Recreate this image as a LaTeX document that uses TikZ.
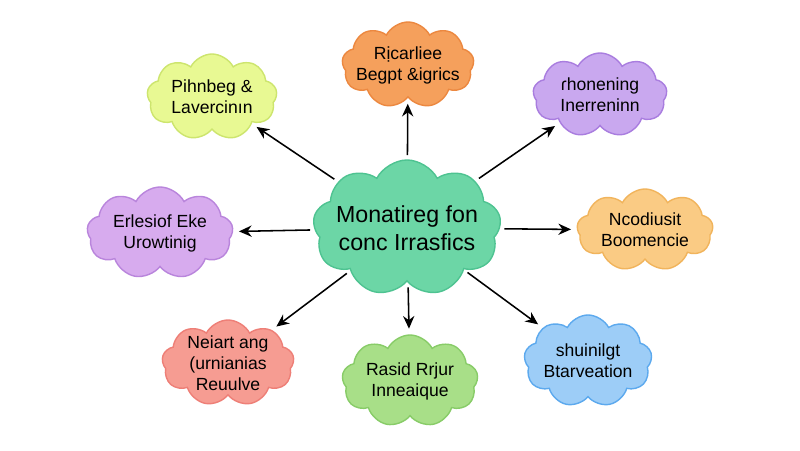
\documentclass[tikz,border=0pt]{standalone}
\usepackage{fontspec}
\setmainfont{Liberation Sans}
\usetikzlibrary{shapes.symbols,arrows.meta}
\definecolor{cmid}{HTML}{6CD6A6}
\definecolor{cmidb}{HTML}{4EC391}
\definecolor{clime}{HTML}{E8F993}
\definecolor{climeb}{HTML}{CDE56E}
\definecolor{corange}{HTML}{F5A05C}
\definecolor{corangeb}{HTML}{EC8840}
\definecolor{cviolet}{HTML}{C9A8EF}
\definecolor{cvioletb}{HTML}{A97DDF}
\definecolor{cpurple}{HTML}{D7ABEE}
\definecolor{cpurpleb}{HTML}{B985DC}
\definecolor{csand}{HTML}{FACB84}
\definecolor{csandb}{HTML}{F1B45C}
\definecolor{crose}{HTML}{F69C92}
\definecolor{croseb}{HTML}{EE7F77}
\definecolor{cgreen}{HTML}{A8DF88}
\definecolor{cgreenb}{HTML}{88CC68}
\definecolor{cblue}{HTML}{9DCDF7}
\definecolor{cblueb}{HTML}{5CA9EE}
\begin{document}
\begin{tikzpicture}[x=0.025cm, y=-0.025cm,
  cloudnode/.style={cloud, cloud puffs=9, cloud puff arc=125, cloud ignores aspect,
    inner xsep=-9pt, inner ysep=-3pt, align=center, line width=1pt, font=\fontsize{12.5}{15}\selectfont},
  link/.style={-{Stealth[length=9pt,width=8pt]}, line width=1.1pt, shorten <=3pt, shorten >=4pt}]
\useasboundingbox[fill=white] (0,0) rectangle (800,450);
\node[cloudnode, fill=cmid, draw=cmidb, minimum width=4.7cm, minimum height=3.4cm,
  font=\fontsize{16.5}{19.5}\selectfont] (cid0) at (407,228){Monatireg fon\\conc Irrasfics};
\node[cloudnode, fill=clime, draw=climeb, minimum width=3.25cm, minimum height=2.15cm] (cid1) at (212,97){Pihnbeg \&\\Lavercin\i n};
\node[cloudnode, fill=corange, draw=corangeb, minimum width=3.3cm, minimum height=2.15cm] (cid2) at (408,65){Rịcarliee\\Begpt \&igrics};
\node[cloudnode, fill=cviolet, draw=cvioletb, minimum width=3.35cm, minimum height=2.1cm] (cid3) at (600,95){ɾhonening\\Inerreninn};
\node[cloudnode, fill=cpurple, draw=cpurpleb, minimum width=3.65cm, minimum height=2.3cm] (cid4) at (160,233){Erlesiof Eke\\Urowtinig};
\node[cloudnode, fill=csand, draw=csandb, minimum width=3.4cm, minimum height=2.05cm] (cid5) at (645,230){Ncodiusit\\Boomencie};
\node[cloudnode, fill=crose, draw=croseb, minimum width=3.3cm, minimum height=2.15cm] (cid6) at (228,363){Neiart ang\\(urnianias\\Reuulve};
\node[cloudnode, fill=cgreen, draw=cgreenb, minimum width=3.4cm, minimum height=2.3cm] (cid7) at (410,381){Rasid Rrjur\\Inneaique};
\node[cloudnode, fill=cblue, draw=cblueb, minimum width=3.2cm, minimum height=2.3cm] (cid8) at (588,361){shuinilgt\\Btarveation};
\draw[link](cid0) -- (cid1);
\draw[link](cid0) -- (cid2);
\draw[link](cid0) -- (cid3);
\draw[link](cid0) -- (cid4);
\draw[link](cid0) -- (cid5);
\draw[link](cid0) -- (cid6);
\draw[link](cid0) -- (cid7);
\draw[link](cid0) -- (cid8);
\end{tikzpicture}
\end{document}
